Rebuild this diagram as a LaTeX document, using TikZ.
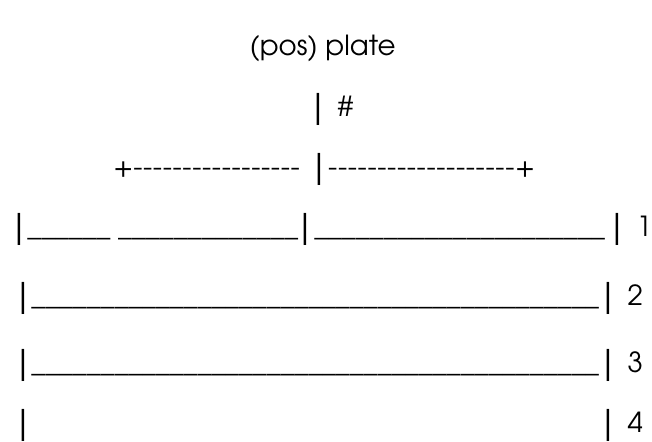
\documentclass[tikz,border=0pt]{standalone}
\usepackage{fontspec}
\setmainfont{TeX Gyre Adventor}
\newcommand{\underrun}[1]{\foreach \u in {1,...,#1}{\_}}
\newcommand{\dashrun}[1]{\foreach \u in {1,...,#1}{-\kern0.65bp}}
\newcommand{\pipe}{\raisebox{-3bp}{\scalebox{1.2}[1.45]{|}}}
\begin{document}
\begin{tikzpicture}[
  x=1bp,
  y=-1bp,
  every node/.style={font=\fontsize{28}{32}\selectfont, black, inner sep=0pt},
  rowtext/.style={anchor=base west},
  midtext/.style={anchor=base}
]
  % ---- page frame ----
  \path (0,0) rectangle (652,444);

  % ---- heading and stem ----
  \node[midtext] (title) at (325,56) {(pos) plate};
  \node[rowtext] (stem) at (317,117) {\pipe\ \ \#};

  % ---- branch line ----
  \node[rowtext] (branchl) at (114,178) {+\dashrun{17}};
  \node[rowtext] (branchr) at (318,178) {\pipe\,\dashrun{19}+};

  % ---- first plate row ----
  \node[rowtext] (rowa) at (15,238) {\pipe\,\underrun{6}\ \underrun{13}};
  \node[rowtext] (rowb) at (304,238) {\pipe\,\underrun{21}\kern4bp};
  \node[rowtext] (rowc) at (618,238) {\pipe\ \ 1};

  % ---- remaining plate rows ----
  \foreach \n/\y in {2/308, 3/375} {
    \node[rowtext] (left\n) at (19,\y) {\pipe\,\underrun{41}};
    \node[rowtext] (right\n) at (609,\y) {\pipe\ \ \n};
  }
  \node[rowtext] (left4) at (19,436) {\pipe};
  \node[rowtext] (right4) at (609,436) {\pipe\ \ 4};
\end{tikzpicture}
\end{document}
